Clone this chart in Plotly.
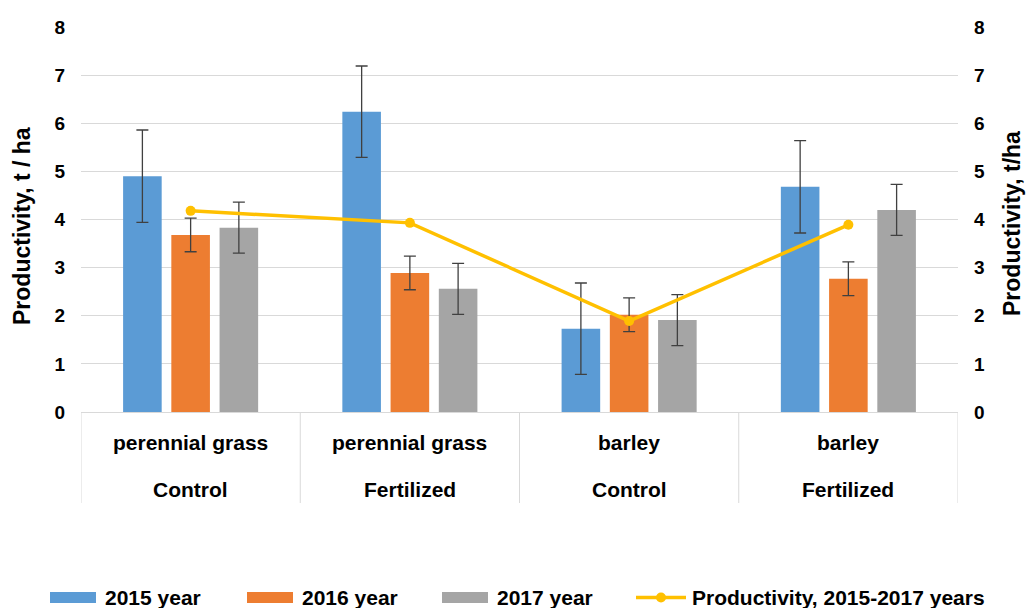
import plotly.graph_objects as go

# ---- data ----
crops = ["perennial grass", "perennial grass", "barley", "barley"]
treatments = ["Control", "Fertilized", "Control", "Fertilized"]
series_names = ["2015 year", "2016 year", "2017 year"]
y2015 = [4.90, 6.24, 1.73, 4.68]
y2016 = [3.68, 2.89, 2.02, 2.77]
y2017 = [3.83, 2.56, 1.91, 4.20]
err2015 = [0.96, 0.95, 0.95, 0.96]
err2016 = [0.35, 0.35, 0.35, 0.35]
err2017 = [0.53, 0.53, 0.53, 0.53]
line_name = "Productivity, 2015-2017 years"
productivity = [4.18, 3.93, 1.89, 3.89]
y_ticks = [0, 1, 2, 3, 4, 5, 6, 7, 8]
left_title = "Productivity, t / ha"
right_title = "Productivity, t/ha"

colors = ["#5B9BD5", "#ED7D31", "#A5A5A5"]
line_color = "#FFC000"
grid_color = "#D9D9D9"
FONT = "Liberation Sans, Arial, sans-serif"
TXT = dict(family=FONT, size=21, color="black", weight="bold")
TICK = dict(family=FONT, size=19, color="black", weight="bold")
TITLE = dict(family=FONT, size=23, color="black", weight="bold")

W, H = 1029, 608
L, R, T, B = 81, 958, 27, 412  # plot area in pixels


def px(x):
    return (x - L) / (R - L)


def py(y):
    return (B - y) / (B - T)


xs = list(range(len(crops)))

fig = go.Figure()
for name, vals, errs, col in zip(series_names, [y2015, y2016, y2017],
                                 [err2015, err2016, err2017], colors):
    fig.add_trace(go.Bar(
        x=xs, y=vals, name=name, marker=dict(color=col, line=dict(width=0)),
        error_y=dict(type="data", array=errs, visible=True, color="#404040",
                     thickness=1.3, width=6),
        showlegend=False,
    ))

fig.add_trace(go.Scatter(
    x=xs, y=productivity, name=line_name, mode="lines+markers", yaxis="y2",
    line=dict(color=line_color, width=3.5),
    marker=dict(color=line_color, size=10),
    showlegend=False, cliponaxis=False,
))

shapes = []
annotations = []
# category table lines
for b in [-0.5, 0.5, 1.5, 2.5, 3.5]:
    shapes.append(dict(type="line", xref="x", yref="paper", x0=b, x1=b,
                       y0=0, y1=py(503), line=dict(color=grid_color, width=1)))
for i, (c, t) in enumerate(zip(crops, treatments)):
    annotations.append(dict(x=i, xref="x", y=py(443), yref="paper", text=c,
                            showarrow=False, xanchor="center", yanchor="middle",
                            font=TXT))
    annotations.append(dict(x=i, xref="x", y=py(489), yref="paper", text=t,
                            showarrow=False, xanchor="center", yanchor="middle",
                            font=TXT))

# axis titles
annotations.append(dict(x=px(22), y=py(226), xref="paper", yref="paper", text=left_title,
                        textangle=-90, showarrow=False, xanchor="center", yanchor="middle",
                        font=TITLE))
annotations.append(dict(x=px(1012), y=py(224), xref="paper", yref="paper", text=right_title,
                        textangle=-90, showarrow=False, xanchor="center", yanchor="middle",
                        font=TITLE))

# custom legend
leg_y = 597.5
sw_starts = [50, 247, 442]
for s, name, col in zip(sw_starts, series_names, colors):
    shapes.append(dict(type="rect", xref="paper", yref="paper",
                       x0=px(s), x1=px(s + 46), y0=py(592), y1=py(603),
                       fillcolor=col, line=dict(width=0)))
    annotations.append(dict(x=px(s + 53), y=py(leg_y), xref="paper", yref="paper",
                            text=name, showarrow=False, xanchor="left", yanchor="middle",
                            font=TXT))
shapes.append(dict(type="line", xref="paper", yref="paper", x0=px(636), x1=px(686),
                   y0=py(leg_y), y1=py(leg_y), line=dict(color=line_color, width=3.5)))
shapes.append(dict(type="circle", xref="paper", yref="paper", x0=px(656), x1=px(666),
                   y0=py(leg_y + 5), y1=py(leg_y - 5), fillcolor=line_color,
                   line=dict(width=0)))
annotations.append(dict(x=px(690), y=py(leg_y), xref="paper", yref="paper",
                        text=line_name, showarrow=False, xanchor="left", yanchor="middle",
                        font=TXT))

fig.update_layout(
    width=W, height=H,
    margin=dict(l=L, r=W - R, t=T, b=H - B, pad=0),
    paper_bgcolor="white", plot_bgcolor="white",
    barmode="group", bargap=0.34, bargroupgap=0.2,
    font=TXT,
    showlegend=False,
    xaxis=dict(range=[-0.5, 3.5], showticklabels=False, showgrid=False,
               showline=True, linecolor=grid_color, linewidth=1, zeroline=False,
               ticks=""),
    yaxis=dict(range=[0, 8], tickvals=y_ticks, showgrid=True, gridcolor=grid_color,
               gridwidth=1, zeroline=False, showline=False, ticks="",
               ticklabelstandoff=15, tickfont=TICK),
    yaxis2=dict(range=[0, 8], tickvals=y_ticks, overlaying="y", side="right",
                showgrid=False, zeroline=False, showline=False, ticks="",
                ticklabelstandoff=15, tickfont=TICK),
    shapes=shapes,
    annotations=annotations,
)

fig.write_html("out.html")
